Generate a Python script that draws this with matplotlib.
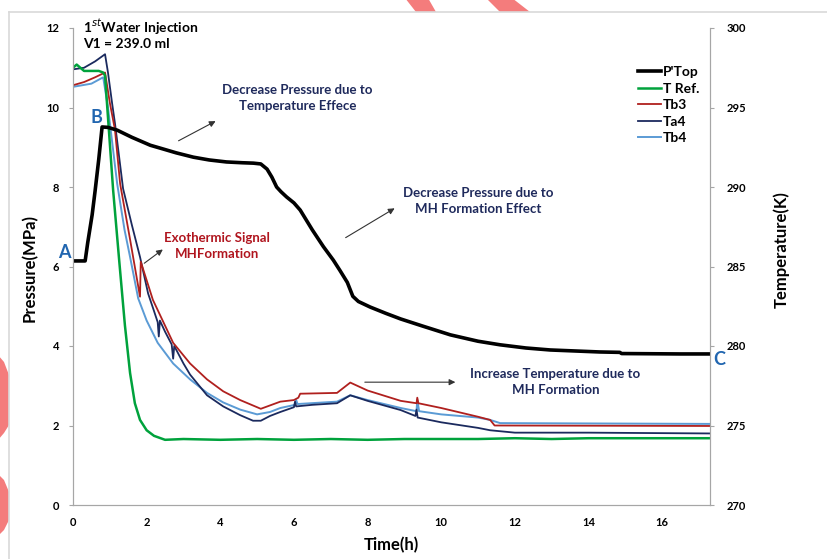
import matplotlib
matplotlib.use("Agg")
import matplotlib.pyplot as plt
from matplotlib.lines import Line2D
from matplotlib.patches import Polygon

plt.rcParams['font.family'] = ['Lato', 'DejaVu Sans']

# ---------------- data ----------------
p_time = [0, 0.33, 0.4, 0.52, 0.6, 0.7, 0.79, 0.95, 1.2, 1.6, 2.1, 2.36, 2.8, 3.27, 3.7,
          4.17, 4.6, 4.9, 5.1, 5.27, 5.4, 5.53, 5.65, 5.8, 6.0, 6.17, 6.5, 6.8, 7.07, 7.25,
          7.45, 7.6, 7.75, 8.07, 8.5, 8.9, 9.5, 10.25, 11.0, 11.6, 12.3, 12.96, 14.3, 14.85,
          14.9, 16.5, 17.3]
p_top = [6.14, 6.14, 6.6, 7.3, 7.9, 8.7, 9.51, 9.5, 9.43, 9.25, 9.05, 8.98, 8.86, 8.75, 8.68,
         8.63, 8.61, 8.6, 8.58, 8.45, 8.25, 8.0, 7.88, 7.75, 7.6, 7.42, 6.92, 6.5, 6.16, 5.9,
         5.6, 5.25, 5.12, 4.98, 4.82, 4.68, 4.5, 4.28, 4.12, 4.03, 3.95, 3.9, 3.85, 3.84,
         3.81, 3.8, 3.8]

tref_time = [0, 0.1, 0.2, 0.3, 0.5, 0.7, 0.82, 0.87, 1.09, 1.25, 1.41, 1.55, 1.68, 1.82, 2.0,
             2.2, 2.5, 3.0, 4.0, 5.0, 6.0, 7.0, 8.0, 9.0, 10.0, 11.0, 12.0, 13.0, 14.0, 15.0,
             16.0, 17.3]
t_ref = [297.5, 297.7, 297.5, 297.3, 297.3, 297.3, 297.2, 297.0, 289.8, 285.5, 281.3, 278.3,
         276.4, 275.35, 274.7, 274.35, 274.1, 274.15, 274.1, 274.15, 274.1, 274.15, 274.1,
         274.15, 274.15, 274.15, 274.2, 274.15, 274.2, 274.2, 274.2, 274.2]

tb3_time = [0, 0.3, 0.6, 0.87, 1.0, 1.14, 1.28, 1.55, 1.82, 1.84, 2.17, 2.72, 3.18, 3.64, 4.08,
            4.54, 5.0, 5.1, 5.63, 6.0, 6.12, 6.17, 7.17, 7.53, 8.0, 8.9, 9.33, 9.35, 9.38,
            10.0, 11.0, 11.33, 11.45, 17.3]
tb3 = [296.4, 296.6, 296.9, 297.2, 295.3, 293.6, 290.2, 286.7, 283.1, 285.3, 282.9, 280.2,
       278.9, 277.9, 277.15, 276.6, 276.15, 276.05, 276.5, 276.6, 276.75, 277.0, 277.05,
       277.7, 277.2, 276.55, 276.4, 276.75, 276.4, 276.1, 275.55, 275.35, 275.0, 274.97]

ta4_time = [0, 0.3, 0.6, 0.87, 0.95, 1.06, 1.14, 1.36, 1.6, 1.82, 2.04, 2.2, 2.3, 2.33, 2.36,
            2.5, 2.68, 2.72, 2.75, 3.0, 3.18, 3.64, 4.08, 4.54, 4.89, 5.1, 5.35, 5.63, 6.0,
            6.03, 6.06, 6.5, 7.17, 7.53, 8.0, 8.9, 9.3, 9.33, 9.36, 10.0, 11.0, 11.33, 12.0,
            14.0, 17.3]
ta4 = [297.4, 297.5, 297.9, 298.35, 297.2, 295.3, 294.0, 289.9, 287.6, 285.6, 283.3, 282.2,
       281.5, 280.6, 281.6, 280.9, 280.1, 279.2, 280.0, 278.9, 278.2, 276.9, 276.2, 275.65,
       275.3, 275.3, 275.6, 275.85, 276.15, 276.5, 276.2, 276.3, 276.4, 276.9, 276.55,
       275.97, 275.6, 276.0, 275.5, 275.2, 274.85, 274.7, 274.55, 274.55, 274.5]

tb4_time = [0, 0.5, 0.82, 0.95, 1.2, 1.4, 1.55, 1.77, 2.0, 2.3, 2.72, 3.18, 3.64, 4.08, 4.54,
            5.0, 5.35, 5.63, 6.03, 6.06, 6.1, 7.17, 7.53, 8.0, 8.9, 9.33, 9.35, 9.4, 10.0,
            11.0, 11.33, 11.6, 17.3]
tb4 = [296.3, 296.5, 296.9, 295.0, 290.2, 287.3, 285.6, 283.0, 281.6, 280.2, 278.9, 277.9,
       277.05, 276.45, 276.0, 275.7, 275.85, 276.1, 276.3, 276.6, 276.35, 276.5, 276.9,
       276.6, 276.1, 275.9, 276.6, 275.9, 275.7, 275.5, 275.35, 275.15, 275.1]

x_ticks = [0, 2, 4, 6, 8, 10, 12, 14, 16]
p_ticks = [0, 2, 4, 6, 8, 10, 12]
t_ticks = [270, 275, 280, 285, 290, 295, 300]

# ---------------- figure ----------------
W, H = 827, 559
fig = plt.figure(figsize=(W / 100, H / 100), dpi=100)

def fx(px):
    return px / W

def fy(py):
    return 1 - py / H

# decorative pink stripes outside the frame
pink = '#F47C7C'
for pts in ([(405, -2), (428, -2), (436, 12), (416, 12)],
            [(486, -2), (512, -2), (530, 12), (500, 12)],
            [(-2, 355), (4, 362), (9, 375), (9, 425), (4, 433), (-2, 440)],
            [(-2, 474), (4, 480), (9, 492), (9, 520), (4, 530), (-2, 536)]):
    fig.patches.append(Polygon([(fx(a), fy(b)) for a, b in pts], closed=True,
                               transform=fig.transFigure, facecolor=pink,
                               edgecolor='none', zorder=0))
# frame border
fig.add_artist(Line2D([fx(9), fx(9)], [fy(12), fy(560)], transform=fig.transFigure,
                      color='#D9D9D9', lw=1.2))
fig.add_artist(Line2D([fx(9), fx(830)], [fy(12), fy(12)], transform=fig.transFigure,
                      color='#D9D9D9', lw=1.2))

ax = fig.add_axes([fx(73), fy(505), fx(710) - fx(73), fy(28) - fy(505)])
ax2 = ax.twinx()
ax.set_zorder(ax2.get_zorder() + 1)
ax.patch.set_visible(False)

c_green = '#00A23C'
c_red = '#B0201E'
c_navy = '#1B2A5E'
c_blue = '#5B9BD5'

l4, = ax2.plot(tb4_time, tb4, color=c_blue, lw=1.4, label='Tb4')
l3, = ax2.plot(ta4_time, ta4, color=c_navy, lw=1.3, label='Ta4')
l2, = ax2.plot(tb3_time, tb3, color=c_red, lw=1.3, label='Tb3')
l1, = ax2.plot(tref_time, t_ref, color=c_green, lw=1.8, label='T Ref.')
l0, = ax.plot(p_time, p_top, color='black', lw=2.6, label="P'Top")

ax.set_xlim(0, 17.3)
ax.set_ylim(0, 12)
ax2.set_ylim(270, 300)
ax.set_xticks(x_ticks)
ax.set_yticks(p_ticks)
ax2.set_yticks(t_ticks)

tick_font = dict(fontsize=8, fontweight='bold')
ax.set_xticklabels([str(v) for v in x_ticks], **tick_font)
ax.set_yticklabels([str(v) for v in p_ticks], **tick_font)
ax2.set_yticklabels([str(v) for v in t_ticks], **tick_font)

for a in (ax, ax2):
    for s in a.spines.values():
        s.set_color('#A6A6A6')
    a.spines['top'].set_visible(False)
ax.tick_params(axis='x', length=0, pad=9)
ax.tick_params(axis='y', length=3, color='#A6A6A6', pad=7)
ax2.tick_params(axis='y', length=3, color='#A6A6A6', pad=9)

fig.text(fx(30), fy(268), 'Pressure(MPa)', rotation=90, ha='center', va='center',
         fontsize=12, fontweight='bold')
fig.text(fx(781), fy(250), 'Temperature(K)', rotation=90, ha='center', va='center',
         fontsize=12, fontweight='bold')
fig.text(fx(391), fy(545), 'Time(h)', ha='center', va='center', fontsize=12,
         fontweight='bold')

fig.text(fx(83), fy(27), r'1$^{st}$Water Injection', ha='left', va='center',
         fontsize=10, fontweight='bold')
fig.text(fx(83), fy(44), 'V1 = 239.0 ml', ha='left', va='center', fontsize=10,
         fontweight='bold')

c_letter = '#2166B0'
ax.text(0.65, 9.76, 'B', color=c_letter, fontsize=13, fontweight='bold',
        ha='center', va='center')
ax.text(-0.24, 6.36, 'A', color=c_letter, fontsize=13, fontweight='bold',
        ha='center', va='center', clip_on=False)
ax.text(17.55, 3.67, 'C', color=c_letter, fontsize=13, fontweight='bold',
        ha='center', va='center', clip_on=False)

c_note = '#1F2A5C'
c_exo = '#B0151E'
ax.text(6.09, 10.24, 'Decrease Pressure due to\nTemperature Effece', color=c_note,
        fontsize=9.5, fontweight='bold', ha='center', va='center', linespacing=1.35)
ax.text(11.0, 7.65, 'Decrease Pressure due to\nMH Formation Effect', color=c_note,
        fontsize=9.5, fontweight='bold', ha='center', va='center', linespacing=1.35)
ax.text(3.91, 6.52, 'Exothermic Signal\nMHFormation', color=c_exo,
        fontsize=9.5, fontweight='bold', ha='center', va='center', linespacing=1.35)
ax.text(13.1, 3.09, 'Increase Temperature due to\nMH Formation', color=c_note,
        fontsize=9.5, fontweight='bold', ha='center', va='center', linespacing=1.35)

arrow = dict(arrowstyle='-|>', color='#333333', lw=0.8, mutation_scale=9)
for (x0, y0), (x1, y1) in [((2.80, 9.13), (3.94, 9.69)),
                           ((7.34, 6.69), (8.80, 7.50)),
                           ((1.875, 6.04), (2.50, 6.47)),
                           ((7.85, 3.09), (10.46, 3.09))]:
    ax.annotate('', xy=(x1, y1), xytext=(x0, y0), arrowprops=arrow)

leg = ax.legend(handles=[l0, l1, l2, l3, l4], loc='upper left',
                bbox_to_anchor=(fx(631), fy(59)), bbox_transform=fig.transFigure,
                frameon=False, borderpad=0, handlelength=1.65, handletextpad=0.15,
                labelspacing=0.33, prop=dict(size=10, weight='bold'))

fig.savefig('out.png', dpi=100)
